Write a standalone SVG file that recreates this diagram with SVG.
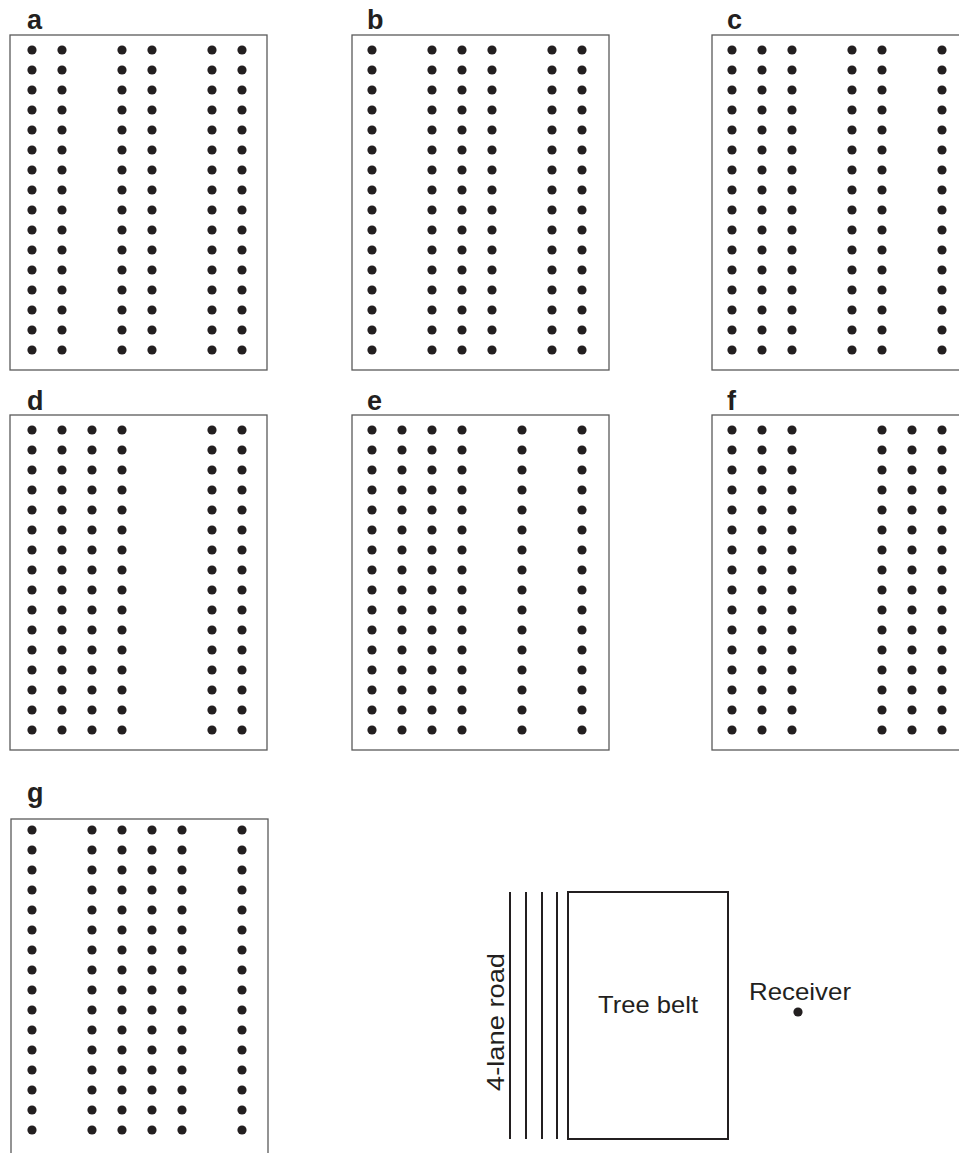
<svg xmlns="http://www.w3.org/2000/svg" xmlns:xlink="http://www.w3.org/1999/xlink" width="959" height="1153" viewBox="0 0 959 1153">
<style>
.box{fill:none;stroke:#5a5a5a;stroke-width:1.3}
.lbl{font-family:"Liberation Sans",Arial,sans-serif;font-weight:bold;font-size:27px;fill:#231f20}
.txt{font-family:"Liberation Sans",Arial,sans-serif;font-size:24px;fill:#231f20}
.road{stroke:#231f20;stroke-width:2;fill:none}
.dot{fill:#231f20}
</style>
<defs>
<g id="col">
<circle class="dot" cx="0" cy="0" r="4.6"/><circle class="dot" cx="0" cy="20" r="4.6"/><circle class="dot" cx="0" cy="40" r="4.6"/><circle class="dot" cx="0" cy="60" r="4.6"/>
<circle class="dot" cx="0" cy="80" r="4.6"/><circle class="dot" cx="0" cy="100" r="4.6"/><circle class="dot" cx="0" cy="120" r="4.6"/><circle class="dot" cx="0" cy="140" r="4.6"/>
<circle class="dot" cx="0" cy="160" r="4.6"/><circle class="dot" cx="0" cy="180" r="4.6"/><circle class="dot" cx="0" cy="200" r="4.6"/><circle class="dot" cx="0" cy="220" r="4.6"/>
<circle class="dot" cx="0" cy="240" r="4.6"/><circle class="dot" cx="0" cy="260" r="4.6"/><circle class="dot" cx="0" cy="280" r="4.6"/><circle class="dot" cx="0" cy="300" r="4.6"/>
</g>
</defs>
<rect width="959" height="1153" fill="#fff"/>

<g id="panel-a">
<text class="lbl" x="27" y="29">a</text>
<rect class="box" x="10" y="35" width="257" height="335"/>
<use xlink:href="#col" x="32" y="50"/><use xlink:href="#col" x="62" y="50"/>
<use xlink:href="#col" x="122" y="50"/><use xlink:href="#col" x="152" y="50"/>
<use xlink:href="#col" x="212" y="50"/><use xlink:href="#col" x="242" y="50"/>
</g>

<g id="panel-b">
<text class="lbl" x="367" y="29">b</text>
<rect class="box" x="352" y="35" width="257" height="335"/>
<use xlink:href="#col" x="372" y="50"/><use xlink:href="#col" x="432" y="50"/>
<use xlink:href="#col" x="462" y="50"/><use xlink:href="#col" x="492" y="50"/>
<use xlink:href="#col" x="552" y="50"/><use xlink:href="#col" x="582" y="50"/>
</g>

<g id="panel-c">
<text class="lbl" x="727" y="29">c</text>
<rect class="box" x="712" y="35" width="257" height="335"/>
<use xlink:href="#col" x="732" y="50"/><use xlink:href="#col" x="762" y="50"/>
<use xlink:href="#col" x="792" y="50"/><use xlink:href="#col" x="852" y="50"/>
<use xlink:href="#col" x="882" y="50"/><use xlink:href="#col" x="942" y="50"/>
</g>

<g id="panel-d">
<text class="lbl" x="27" y="410">d</text>
<rect class="box" x="10" y="415" width="257" height="335"/>
<use xlink:href="#col" x="32" y="430"/><use xlink:href="#col" x="62" y="430"/>
<use xlink:href="#col" x="92" y="430"/><use xlink:href="#col" x="122" y="430"/>
<use xlink:href="#col" x="212" y="430"/><use xlink:href="#col" x="242" y="430"/>
</g>

<g id="panel-e">
<text class="lbl" x="367" y="410">e</text>
<rect class="box" x="352" y="415" width="257" height="335"/>
<use xlink:href="#col" x="372" y="430"/><use xlink:href="#col" x="402" y="430"/>
<use xlink:href="#col" x="432" y="430"/><use xlink:href="#col" x="462" y="430"/>
<use xlink:href="#col" x="522" y="430"/><use xlink:href="#col" x="582" y="430"/>
</g>

<g id="panel-f">
<text class="lbl" x="727" y="410">f</text>
<rect class="box" x="712" y="415" width="257" height="335"/>
<use xlink:href="#col" x="732" y="430"/><use xlink:href="#col" x="762" y="430"/>
<use xlink:href="#col" x="792" y="430"/><use xlink:href="#col" x="882" y="430"/>
<use xlink:href="#col" x="912" y="430"/><use xlink:href="#col" x="942" y="430"/>
</g>

<g id="panel-g">
<text class="lbl" x="27" y="802">g</text>
<rect class="box" x="11" y="819" width="257" height="345"/>
<use xlink:href="#col" x="32" y="830"/><use xlink:href="#col" x="92" y="830"/>
<use xlink:href="#col" x="122" y="830"/><use xlink:href="#col" x="152" y="830"/>
<use xlink:href="#col" x="182" y="830"/><use xlink:href="#col" x="242" y="830"/>
</g>

<g id="road">
<line class="road" x1="510" y1="892" x2="510" y2="1139"/>
<line class="road" x1="526" y1="892" x2="526" y2="1139"/>
<line class="road" x1="542" y1="892" x2="542" y2="1139"/>
<line class="road" x1="557" y1="892" x2="557" y2="1139"/>
<text class="txt" transform="translate(504,1022) rotate(-90)" text-anchor="middle" font-size="26" textLength="138" lengthAdjust="spacingAndGlyphs">4-lane road</text>
</g>

<g id="tree-belt">
<rect class="road" x="568" y="892" width="160" height="247"/>
<text class="txt" x="648" y="1013" text-anchor="middle" textLength="100" lengthAdjust="spacingAndGlyphs">Tree belt</text>
</g>

<g id="receiver">
<text class="txt" x="800" y="1000" text-anchor="middle" textLength="102" lengthAdjust="spacingAndGlyphs">Receiver</text>
<circle class="dot" cx="798" cy="1012" r="4.6"/>
</g>
</svg>
